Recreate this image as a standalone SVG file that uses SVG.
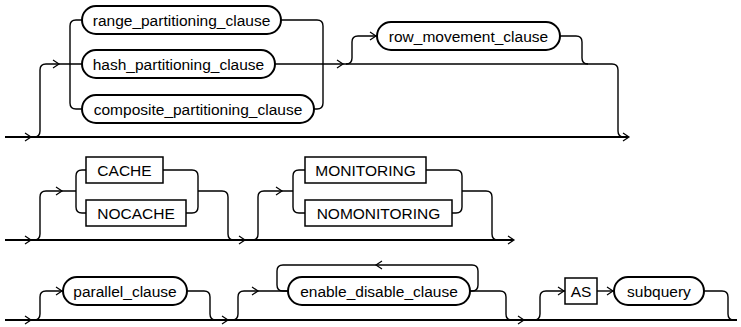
<svg xmlns="http://www.w3.org/2000/svg" width="741" height="327" viewBox="0 0 741 327">
<defs>
<style>
.ln{fill:none;stroke:#000;stroke-width:1.4}
.bl{fill:none;stroke:#000;stroke-width:1.8}
.bx{fill:#fff;stroke:#000;stroke-width:2}
.rb{fill:#fff;stroke:#000;stroke-width:1.5}
.t{font-family:"Liberation Sans",Arial,sans-serif;font-size:15.5px;fill:#000;text-anchor:middle}
.ar{fill:none;stroke:#000;stroke-width:1.2}
</style>
<path id="a" class="ar" d="M-6,-4 L0,0 L-6,4"/>
<path id="al" class="ar" d="M6,-4 L0,0 L6,4"/>
</defs>
<g id="connectors">
<!-- row 1 -->
<path class="bl" d="M5 137 H628"/>
<path class="ln" d="M34 137 Q40 137 40 131 V70 Q40 64 46 64 H82"/>
<path class="ln" d="M82 20 H76 Q70 20 70 26 V103 Q70 109 76 109 H82"/>
<path class="ln" d="M281 20 H317 Q323 20 323 26 V103 Q323 109 317 109 H314"/>
<path class="ln" d="M275 64 H612 Q618 64 618 70 V131 Q618 137 624 137"/>
<path class="ln" d="M346 64 Q352 64 352 58 V42 Q352 36 358 36 H377"/>
<path class="ln" d="M560 36 H576 Q582 36 582 42 V58 Q582 64 588 64"/>
<use href="#a" x="31" y="137"/>
<use href="#a" x="59" y="64"/>
<use href="#a" x="343" y="64"/>
<use href="#a" x="376" y="36"/>
<use href="#a" x="629" y="137"/>
<!-- row 2 -->
<path class="bl" d="M5 240 H513"/>
<path class="ln" d="M34 240 Q40 240 40 234 V197 Q40 191 46 191 H76"/>
<path class="ln" d="M86 170 H82 Q76 170 76 176 V207 Q76 213 82 213 H86"/>
<path class="ln" d="M163 170 H192 Q198 170 198 176 V207 Q198 213 192 213 H186"/>
<path class="ln" d="M198 191 H222 Q228 191 228 197 V234 Q228 240 234 240"/>
<path class="ln" d="M252 240 Q258 240 258 234 V197 Q258 191 264 191 H293"/>
<path class="ln" d="M305 170 H299 Q293 170 293 176 V207 Q293 213 299 213 H305"/>
<path class="ln" d="M426 170 H456 Q462 170 462 176 V207 Q462 213 456 213 H452"/>
<path class="ln" d="M462 191 H486 Q492 191 492 197 V234 Q492 240 498 240"/>
<use href="#a" x="31" y="240"/>
<use href="#a" x="62" y="191"/>
<use href="#a" x="245" y="240"/>
<use href="#a" x="282" y="191"/>
<use href="#a" x="514" y="240"/>
<!-- row 3 -->
<path class="bl" d="M5 320 H737"/>
<path class="ln" d="M34 320 Q40 320 40 314 V297 Q40 291 46 291 H63"/>
<path class="ln" d="M187 291 H204 Q210 291 210 297 V314 Q210 320 216 320"/>
<path class="ln" d="M232 320 Q238 320 238 314 V297 Q238 291 244 291 H288"/>
<path class="ln" d="M288 291 H283 Q277 291 277 285 V271 Q277 265 283 265 H472 Q478 265 478 271 V285 Q478 291 472 291 H470"/>
<path class="ln" d="M470 291 H500 Q506 291 506 297 V314 Q506 320 512 320"/>
<path class="ln" d="M534 320 Q540 320 540 314 V297 Q540 291 546 291 H565"/>
<path class="ln" d="M597 291 H614"/>
<path class="ln" d="M704 291 H722 Q728 291 728 297 V314 Q728 320 734 320"/>
<use href="#a" x="31" y="320"/>
<use href="#a" x="62" y="291"/>
<use href="#a" x="228" y="320"/>
<use href="#a" x="258" y="291"/>
<use href="#al" x="376" y="265"/>
<use href="#a" x="524" y="320"/>
<use href="#a" x="564" y="291"/>
<use href="#a" x="613" y="291"/>
</g>
<g id="range_partitioning_clause"><rect class="bx" x="82" y="6" width="199" height="28" rx="14"/><text class="t" x="181.5" y="25.5">range_partitioning_clause</text></g>
<g id="hash_partitioning_clause"><rect class="bx" x="82" y="50" width="193" height="28" rx="14"/><text class="t" x="178.5" y="69.5">hash_partitioning_clause</text></g>
<g id="composite_partitioning_clause"><rect class="bx" x="82" y="95" width="232" height="28" rx="14"/><text class="t" x="198" y="114.5">composite_partitioning_clause</text></g>
<g id="row_movement_clause"><rect class="bx" x="377" y="22" width="183" height="28" rx="14"/><text class="t" x="468.5" y="41.5">row_movement_clause</text></g>
<g id="CACHE"><rect class="rb" x="86" y="157" width="77" height="26"/><text class="t" x="124.5" y="175.5">CACHE</text></g>
<g id="NOCACHE"><rect class="rb" x="86" y="200" width="100" height="26"/><text class="t" x="136" y="218.5">NOCACHE</text></g>
<g id="MONITORING"><rect class="rb" x="305" y="157" width="121" height="26"/><text class="t" x="365.5" y="175.5">MONITORING</text></g>
<g id="NOMONITORING"><rect class="rb" x="305" y="200" width="147" height="26"/><text class="t" x="378.5" y="218.5">NOMONITORING</text></g>
<g id="parallel_clause"><rect class="bx" x="63" y="277" width="124" height="28" rx="14"/><text class="t" x="125" y="296.5">parallel_clause</text></g>
<g id="enable_disable_clause"><rect class="bx" x="288" y="277" width="182" height="28" rx="14"/><text class="t" x="379" y="296.5">enable_disable_clause</text></g>
<g id="AS"><rect class="rb" x="565" y="278" width="32" height="26"/><text class="t" x="581" y="296.5">AS</text></g>
<g id="subquery"><rect class="bx" x="614" y="277" width="90" height="28" rx="14"/><text class="t" x="659" y="296.5">subquery</text></g>
</svg>
